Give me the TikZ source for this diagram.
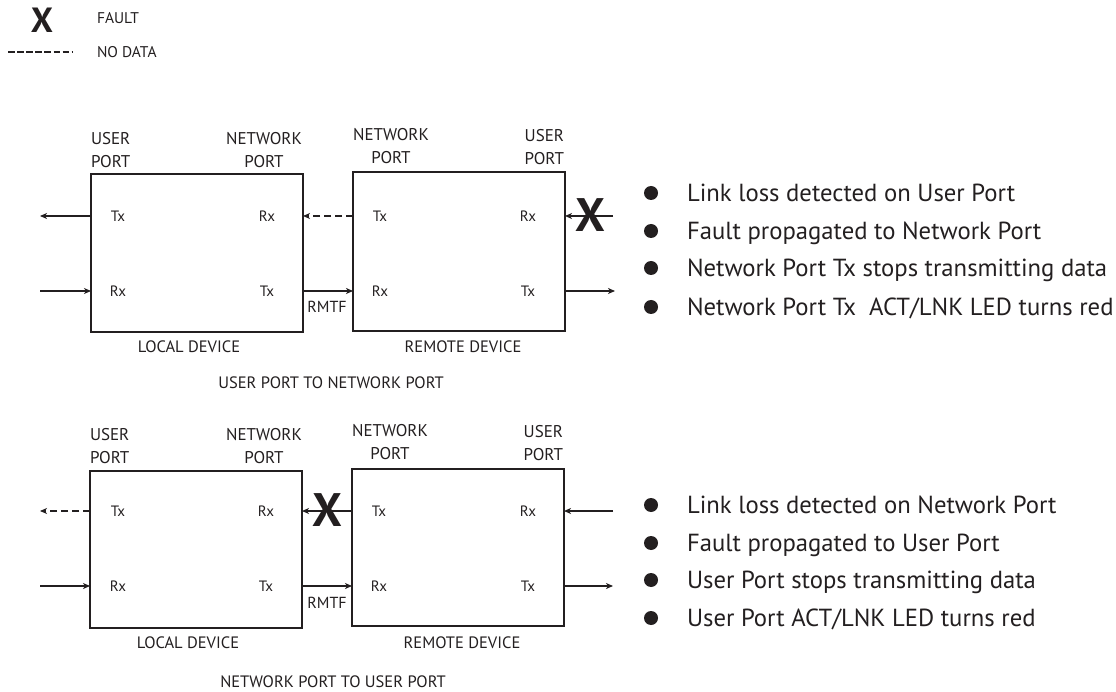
\documentclass[tikz,border=0pt]{standalone}
\usepackage{fontspec}
\setmainfont{PT Sans}
\usetikzlibrary{arrows.meta}
\definecolor{ink}{RGB}{35,31,32}
\begin{document}
\begin{tikzpicture}[x=1pt,y=-1pt,
  every node/.style={text=ink, inner sep=0pt, outer sep=0pt},
  box/.style={draw=ink, line width=2pt, minimum width=212pt},
  lbl/.style={font=\fontsize{17}{23}\selectfont},
  port/.style={font=\fontsize{15}{18}\selectfont, text height=10.5pt, text depth=0pt},
  dev/.style={font=\fontsize{16.5}{20}\selectfont, text height=11.6pt, text depth=0pt},
  leg/.style={anchor=west, font=\fontsize{15.5}{18}\selectfont, text height=10.8pt, text depth=0pt},
  link/.style={draw=ink, line width=1.5pt, -{Stealth[length=7pt,width=6pt,inset=2pt]}},
  nodata/.style={link, dash pattern=on 7pt off 4pt},
  fault/.style={font=\fontsize{47}{47}\selectfont\bfseries, text height=33pt, text depth=0pt},
  bigfault/.style={font=\fontsize{35}{35}\selectfont\bfseries, text height=24.5pt, text depth=0pt},
  dot/.style={circle, fill=ink, minimum size=14pt},
  item/.style={anchor=west, font=\fontsize{24.7}{28}\selectfont, text height=17.3pt, text depth=0pt},
]
\useasboundingbox (0,0) rectangle (1116,692);

% ---------- legend ----------
\node[bigfault] (fx) at (42,20) {X};
\node[leg] (ft) at (97,18) {FAULT};
\coordinate (d1) at (8,52);
\coordinate (d2) at (73,52);
\draw[ink, line width=2.7pt, dash pattern=on 6.5pt off 2.6pt] (d1) -- (d2);
\node[leg] (nd) at (97,52) {NO DATA};

% ---------- top diagram ----------
\node[box, minimum height=158pt] (L1) at (197,253) {};
\node[box, minimum height=159pt] (R1) at (459,251.5) {};

\node[lbl, align=left, anchor=west] (L1up) at (91,150.5) {USER\\PORT};
\node[lbl, align=center] (L1np) at (264,150.5) {NETWORK\\PORT};
\node[lbl, align=center] (R1np) at (391,146.5) {NETWORK\\PORT};
\node[lbl, align=right, anchor=east] (R1up) at (564,147.5) {USER\\PORT};

\node[port] (L1tx) at (118,216) {Tx};
\node[port] (L1rx) at (267,216) {Rx};
\node[port] (L1rx2) at (118,291) {Rx};
\node[port] (L1tx2) at (267,291) {Tx};
\node[port] (R1tx) at (380,216) {Tx};
\node[port] (R1rx) at (528,216) {Rx};
\node[port] (R1rx2) at (380,291) {Rx};
\node[port] (R1tx2) at (528,291) {Tx};

\coordinate (o1) at (40,216);
\coordinate (i1) at (40,291);
\coordinate (i2) at (613,216);
\coordinate (o2) at (615,291);
\draw[link] (L1.west |- L1tx) -- (o1);
\draw[link] (i1) -- (L1.west |- L1rx2);
\draw[nodata] (R1.west |- R1tx) -- (L1.east |- L1rx);
\draw[link] (L1.east |- L1tx2) -- (R1.west |- R1rx2);
\draw[link] (i2) -- (R1.east |- R1rx);
\draw[link] (R1.east |- R1tx2) -- (o2);
\node[fault] (X1) at (590,215) {X};

\node[port, font=\fontsize{16}{18}\selectfont, text height=11.2pt] (rm1) at (327,307) {RMTF};
\node[dev] (ld1) at (189,347) {LOCAL DEVICE};
\node[dev] (rd1) at (463,347) {REMOTE DEVICE};
\node[dev] (t1) at (331,383) {USER PORT TO NETWORK PORT};

\node[dot] (b11) at (651,193) {};
\node[dot] (b12) at (651,231) {};
\node[dot] (b13) at (651,268) {};
\node[dot] (b14) at (651,307) {};
\node[item] at (687,193) {Link loss detected on User Port};
\node[item] at (687,231) {Fault propagated to Network Port};
\node[item] at (687,268) {Network Port Tx stops transmitting data};
\node[item] at (687,307) {Network Port Tx\ \ ACT/LNK LED turns red};

% ---------- bottom diagram ----------
\node[box, minimum height=157pt] (L2) at (196,549.5) {};
\node[box, minimum height=157pt] (R2) at (458,547.5) {};

\node[lbl, align=left, anchor=west] (L2up) at (90,446.5) {USER\\PORT};
\node[lbl, align=center] (L2np) at (264,446.5) {NETWORK\\PORT};
\node[lbl, align=center] (R2np) at (390,442) {NETWORK\\PORT};
\node[lbl, align=right, anchor=east] (R2up) at (563,443.5) {USER\\PORT};

\node[port] (L2tx) at (118,511) {Tx};
\node[port] (L2rx) at (266,511) {Rx};
\node[port] (L2rx2) at (118,586) {Rx};
\node[port] (L2tx2) at (266,586) {Tx};
\node[port] (R2tx) at (379,511) {Tx};
\node[port] (R2rx) at (528,511) {Rx};
\node[port] (R2rx2) at (379,586) {Rx};
\node[port] (R2tx2) at (528,586) {Tx};

\coordinate (o3) at (40,511);
\coordinate (i3) at (40,586);
\coordinate (i4) at (613,511);
\coordinate (o4) at (613,586);
\draw[nodata] (L2.west |- L2tx) -- (o3);
\draw[link] (i3) -- (L2.west |- L2rx2);
\draw[link] (R2.west |- R2tx) -- (L2.east |- L2rx);
\draw[link] (L2.east |- L2tx2) -- (R2.west |- R2rx2);
\draw[link] (i4) -- (R2.east |- R2rx);
\draw[link] (R2.east |- R2tx2) -- (o4);
\node[fault] (X2) at (327,510) {X};

\node[port, font=\fontsize{16}{18}\selectfont, text height=11.2pt] (rm2) at (327,603) {RMTF};
\node[dev] (ld2) at (188,643) {LOCAL DEVICE};
\node[dev] (rd2) at (462,643) {REMOTE DEVICE};
\node[dev] (t2) at (333,682) {NETWORK PORT TO USER PORT};

\node[dot] (b21) at (651,505) {};
\node[dot] (b22) at (651,543) {};
\node[dot] (b23) at (651,580) {};
\node[dot] (b24) at (651,618) {};
\node[item] at (687,505) {Link loss detected on Network Port};
\node[item] at (687,543) {Fault propagated to User Port};
\node[item] at (687,580) {User Port stops transmitting data};
\node[item] at (687,618) {User Port ACT/LNK LED turns red};
\end{tikzpicture}
\end{document}
